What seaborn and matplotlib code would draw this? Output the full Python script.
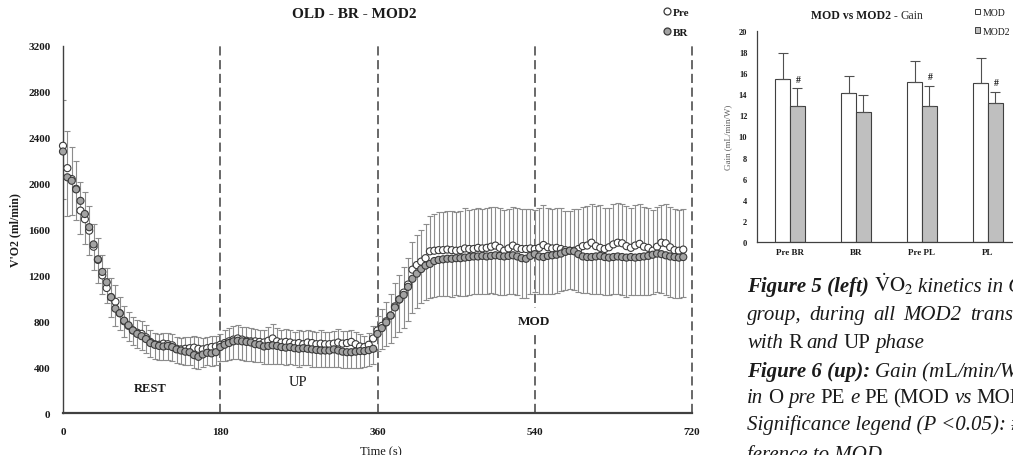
import numpy as np
import pandas as pd
import matplotlib
matplotlib.use("Agg")
import matplotlib.pyplot as plt
import seaborn as sns
from matplotlib.lines import Line2D
from matplotlib.patches import Patch

# ---------------- data: main chart (VO2 kinetics, one point every 5 s) ----------------
STEP_S = 5
pre_rest = [2330, 2135, 2040, 1955, 1765, 1690, 1590, 1450, 1335, 1200,
            1090, 1010, 970, 870, 800, 760, 720, 700, 690, 660,
            620, 600, 595, 605, 600, 590, 560, 555, 560, 565,
            570, 560, 555, 565, 575, 580, 595]
br_rest = [2280, 2055, 2025, 1950, 1850, 1735, 1620, 1470, 1340, 1230,
           1140, 1010, 910, 870, 805, 765, 720, 690, 670, 645,
           610, 595, 585, 580, 585, 575, 555, 545, 535, 530,
           505, 490, 510, 525, 520, 530, 575]
pre_up = [610, 625, 640, 650, 640, 630, 625, 625, 620, 615,
          630, 650, 625, 615, 620, 615, 605, 610, 600, 615,
          610, 600, 605, 600, 600, 605, 615, 605, 610, 620,
          600, 580, 575, 595, 650]
br_up = [595, 610, 625, 630, 625, 620, 615, 600, 595, 580,
         585, 590, 585, 575, 570, 575, 565, 560, 565, 560,
         555, 550, 545, 545, 545, 555, 545, 535, 530, 530,
         535, 540, 540, 548, 560]
pre_rise = [720, 760, 800, 850, 930, 990, 1050, 1120, 1250, 1290, 1320, 1350, 1410]
br_rise = [690, 740, 790, 850, 920, 990, 1030, 1100, 1170, 1215, 1255, 1285, 1300]
pre_mod = [1415, 1420, 1420, 1425, 1420, 1415, 1420, 1435, 1430, 1430,
           1440, 1435, 1440, 1450, 1460, 1440, 1415, 1435, 1460, 1440,
           1430, 1430, 1435, 1430, 1440, 1465, 1445, 1435, 1440, 1430,
           1420, 1415, 1415, 1430, 1455, 1460, 1485, 1455, 1440, 1430,
           1445, 1470, 1485, 1480, 1455, 1440, 1460, 1475, 1450, 1440,
           1415, 1450, 1485, 1480, 1445, 1420, 1415, 1425]
br_mod = [1325, 1335, 1340, 1345, 1345, 1350, 1350, 1355, 1360, 1365,
          1365, 1370, 1365, 1370, 1375, 1370, 1365, 1370, 1375, 1365,
          1350, 1345, 1370, 1385, 1365, 1360, 1370, 1375, 1380, 1390,
          1405, 1415, 1410, 1385, 1365, 1360, 1360, 1365, 1370, 1360,
          1355, 1360, 1365, 1360, 1355, 1360, 1355, 1360, 1365, 1370,
          1380, 1390, 1385, 1375, 1365, 1360, 1355, 1360]

pre_sd_rest = [400, 320, 280, 245, 250, 235, 215, 200, 190, 180,
               175, 165, 150, 140, 130, 125, 120, 115, 110, 105,
               100, 100, 95, 95, 95, 95, 100, 100, 100, 100,
               100, 100, 100, 100, 95, 95, 95]
pre_sd_up = [110, 115, 120, 115, 110, 120, 115, 110, 105, 110,
             120, 125, 115, 110, 115, 110, 105, 110, 115, 110,
             105, 110, 115, 110, 105, 110, 115, 110, 105, 100,
             105, 110, 100, 105, 110]
pre_sd_rise = [130, 150, 170, 190, 200, 210, 220, 230, 240, 260, 280, 300, 310]
pre_sd_mod = [320, 330, 335, 340, 345, 340, 345, 350, 340, 345,
              350, 345, 350, 345, 340, 350, 355, 345, 340, 350,
              345, 350, 345, 340, 350, 345, 340, 345, 350, 355,
              345, 350, 360, 345, 340, 345, 335, 350, 370, 355,
              345, 350, 345, 340, 350, 345, 355, 345, 350, 345,
              355, 350, 330, 340, 350, 355, 355, 350]
br_sd_rest = [410, 340, 300, 265, 285, 265, 245, 225, 205, 195,
              185, 170, 155, 150, 140, 135, 130, 125, 125, 120,
              120, 120, 120, 120, 120, 120, 120, 115, 115, 115,
              110, 105, 110, 110, 110, 110, 120]
br_sd_up = [140, 145, 150, 155, 160, 165, 160, 155, 150, 150,
            155, 160, 155, 150, 150, 145, 150, 155, 150, 145,
            150, 150, 145, 140, 145, 150, 145, 140, 135, 135,
            140, 145, 140, 135, 130]
br_sd_rise = [150, 180, 210, 240, 260, 280, 290, 300, 300, 300, 300, 300, 300]
br_sd_mod = [310, 315, 320, 325, 330, 325, 330, 335, 330, 325,
             330, 335, 330, 325, 335, 340, 335, 330, 335, 340,
             345, 340, 335, 330, 325, 320, 330, 335, 330, 325,
             330, 335, 340, 330, 320, 315, 320, 325, 330, 335,
             330, 325, 330, 335, 340, 335, 330, 335, 340, 345,
             340, 335, 340, 345, 350, 355, 350, 350]

pre = pre_rest + pre_up + pre_rise + pre_mod
br = br_rest + br_up + br_rise + br_mod
pre_sd = pre_sd_rest + pre_sd_up + pre_sd_rise + pre_sd_mod
br_sd = br_sd_rest + br_sd_up + br_sd_rise + br_sd_mod

phase_lines = [180, 360, 540, 720]
x_ticks = [0, 180, 360, 540, 720]
y_ticks = [0, 400, 800, 1200, 1600, 2000, 2400, 2800, 3200]

# ---------------- data: bar chart (Gain) ----------------
bar_cats = ["Pre BR", "BR", "Pre PL", "PL"]
bar_series = ["MOD", "MOD2"]
mod_gain = [15.45, 14.15, 15.2, 15.1]
mod_sd = [2.5, 1.55, 2.0, 2.3]
mod2_gain = [12.9, 12.35, 12.85, 13.15]
mod2_sd = [1.65, 1.6, 1.9, 1.1]
mod2_marks = ["#", "", "#", "#"]

# ---------------- style ----------------
sns.set_style("white")
plt.rcParams["font.family"] = ["Liberation Serif", "DejaVu Serif"]
plt.rcParams["mathtext.fontset"] = "stix"
TXT = "#1a1a1a"
DARK = "#404040"

W, H = 1013, 456
fig = plt.figure(figsize=(W / 100, H / 100), dpi=100)

# ---------------- main chart ----------------
ax = fig.add_axes([63 / W, 1 - 414 / H, 629 / W, 367 / H])
n = len(pre)
time = np.arange(n) * STEP_S
df = pd.DataFrame({"t": np.concatenate([time, time]),
                   "v": pre + br,
                   "g": ["Pre"] * n + ["BR"] * n})

for xv in phase_lines:
    ax.axvline(xv, color=DARK, lw=1.1, ls=(0, (6, 3)), zorder=1, clip_on=False)

ax.errorbar(time, pre, yerr=[np.zeros(n), pre_sd], fmt="none", ecolor="#8c8c8c",
            elinewidth=0.8, capsize=2.2, capthick=0.8, zorder=2)
ax.errorbar(time, br, yerr=[br_sd, np.zeros(n)], fmt="none", ecolor="#8c8c8c",
            elinewidth=0.8, capsize=2.2, capthick=0.8, zorder=2)
sns.scatterplot(data=df, x="t", y="v", hue="g",
                palette={"Pre": "white", "BR": "#a3a3a3"},
                edgecolor="#3a3a3a", linewidth=0.8, s=26, legend=False,
                ax=ax, zorder=3, clip_on=False)

ax.set_xlim(0, 720)
ax.set_ylim(0, 3200)
ax.set_xticks(x_ticks)
ax.set_yticks(y_ticks)
ax.set_xticklabels([str(v) for v in x_ticks], fontweight="bold", fontsize=8, color=TXT)
ax.set_yticklabels([str(v) for v in y_ticks], fontweight="bold", fontsize=8, color=TXT)
ax.tick_params(axis="both", direction="out", length=4, width=0.8, color=DARK)
ax.tick_params(axis="y", pad=5)
ax.tick_params(axis="x", pad=6)
for s in ["top", "right"]:
    ax.spines[s].set_visible(False)
ax.spines["left"].set_color(DARK)
ax.spines["left"].set_linewidth(1.0)
ax.spines["bottom"].set_color(DARK)
ax.spines["bottom"].set_linewidth(1.6)
ax.set_ylabel("V'O2 (ml/min)", fontweight="bold", fontsize=8.5, color=TXT)
ax.yaxis.set_label_coords(-0.066, 0.5)
ax.set_xlabel("Time (s)", fontsize=9, color=TXT)
ax.xaxis.set_label_coords(0.505, -0.088)

ax.text(100, 218, "REST", ha="center", va="center", fontweight="bold", fontsize=9, color=TXT)
ax.text(269, 279, "UP", ha="center", va="center", fontsize=10.5, color=TXT)
ax.text(539, 802, "MOD", ha="center", va="center", fontweight="bold", fontsize=9.5, color=TXT,
        bbox=dict(facecolor="white", edgecolor="none", pad=5), zorder=4)

fig.text(354 / W, 1 - 14 / H, "OLD - BR - MOD2", ha="center", va="center",
         fontweight="bold", fontsize=11, color=TXT)
leg_handles = [Line2D([], [], marker="o", ls="none", markerfacecolor="white",
                      markeredgecolor="#3a3a3a", markersize=5, markeredgewidth=0.9),
               Line2D([], [], marker="o", ls="none", markerfacecolor="#a3a3a3",
                      markeredgecolor="#3a3a3a", markersize=5, markeredgewidth=0.9)]
fig.legend(leg_handles, ["Pre", "BR"], loc="upper left", bbox_to_anchor=(664 / W, 1 - 8 / H),
           frameon=False, prop={"weight": "bold", "size": 8}, handlelength=0.5,
           handletextpad=0.25, labelspacing=0.9, borderpad=0, borderaxespad=0,
           labelcolor=TXT)

# ---------------- bar chart ----------------
axb = fig.add_axes([757 / W, 1 - 243 / H, 264 / W, 211 / H])
dfb = pd.DataFrame({"cat": bar_cats * 2,
                    "val": mod_gain + mod2_gain,
                    "series": ["MOD"] * len(bar_cats) + ["MOD2"] * len(bar_cats)})
sns.barplot(data=dfb, x="cat", y="val", hue="series", order=bar_cats, hue_order=bar_series,
            palette={"MOD": "white", "MOD2": "#bfbfbf"}, edgecolor=DARK, linewidth=0.8,
            width=0.45, gap=0, errorbar=None, legend=False, ax=axb, zorder=2)
for cont, sds, marks in zip(axb.containers, [mod_sd, mod2_sd], [None, mod2_marks]):
    xs = [p.get_x() + p.get_width() / 2 for p in cont]
    hs = [p.get_height() for p in cont]
    axb.errorbar(xs, hs, yerr=[np.zeros(len(sds)), sds], fmt="none", ecolor="#505050",
                 elinewidth=0.8, capsize=3.5, capthick=0.8, zorder=3)
    if marks is not None:
        for xv, hv, sv, m in zip(xs, hs, sds, marks):
            if m:
                axb.text(xv + 0.02, hv + sv + 0.9, m, ha="center", va="center",
                         fontsize=7, fontweight="bold", color=TXT)

axb.set_xlim(-0.5, 3.5)
axb.set_ylim(0, 20)
axb.set_yticks(range(0, 21, 2))
axb.set_yticklabels([str(v) for v in range(0, 21, 2)], fontweight="bold", fontsize=6, color=TXT)
axb.set_xticks(range(len(bar_cats)))
axb.set_xticklabels(bar_cats, fontweight="bold", fontsize=6.5, color=TXT)
axb.set_xticks([0.5, 1.5, 2.5], minor=True)
axb.tick_params(axis="x", which="major", length=0, pad=4)
axb.tick_params(axis="x", which="minor", direction="out", length=4, width=0.8, color=DARK)
axb.tick_params(axis="y", direction="out", length=3, width=0.8, color=DARK, pad=4)
for s in ["top", "right"]:
    axb.spines[s].set_visible(False)
for s in ["left", "bottom"]:
    axb.spines[s].set_color(DARK)
    axb.spines[s].set_linewidth(0.9)
axb.set_xlabel("")
axb.set_ylabel("Gain (mL/min/W)", fontsize=6.5, color="#606060")
axb.yaxis.set_label_coords(-0.095, 0.5)

bar_handles = [Patch(facecolor="white", edgecolor=DARK, linewidth=0.7),
               Patch(facecolor="#bfbfbf", edgecolor=DARK, linewidth=0.7)]
fig.legend(bar_handles, bar_series, loc="upper left", bbox_to_anchor=(975 / W, 1 - 9 / H),
           frameon=False, fontsize=7, handlelength=0.55, handleheight=0.55,
           handletextpad=0.2, labelspacing=1.0, borderpad=0, borderaxespad=0,
           labelcolor=TXT)

# ---------------- text runs (mixed styles) ----------------
renderer = fig.canvas.get_renderer()


def chain(parts, x0, y_base):
    x = x0
    for txt, kw, gap in parts:
        x += gap
        opts = dict(color=TXT)
        opts.update(kw)
        t = fig.text(x / W, 1 - y_base / H, txt, ha="left", va="baseline", **opts)
        x = t.get_window_extent(renderer).x1


chain([("MOD vs MOD2 -", dict(fontweight="bold", fontsize=8.5), 0),
       ("Gain", dict(fontsize=8.5, color="#333333"), 3)], 811, 19)

FS = 15
it = dict(style="italic", fontsize=FS)
bi = dict(style="italic", fontweight="bold", fontsize=FS)
rg = dict(fontsize=FS)
X0 = 747
chain([("Figure 5 (left)", bi, 0), (r"$\mathrm{\dot{V}O_2}$", rg, 5), ("kinetics in O", it, 5)], X0, 292)
chain([("group,", it, 0), ("during", it, 8), ("all", it, 8), ("MOD2", it, 8), ("transition", it, 8)], X0, 320)
chain([("with", it, 0), ("R", rg, 5), ("and", it, 5), ("UP", rg, 5), ("phase", it, 5)], X0, 348)
chain([("Figure 6 (up):", bi, 0), ("Gain (m", it, 5), ("L", rg, 0), ("/min/W)", it, 1)], X0, 377)
chain([("in", it, 0), ("O", rg, 5), ("pre", it, 5), ("PE", rg, 5), ("e", it, 5), ("PE", rg, 5),
       ("(MOD", rg, 5), ("vs", it, 5), ("MOD2)", rg, 5)], X0, 403)
chain([("Significance legend (P <0.05): # = significant", it, 0)], X0, 430)
chain([("ference to MOD", it, 0)], X0, 460)

fig.savefig("out.png", dpi=100)
